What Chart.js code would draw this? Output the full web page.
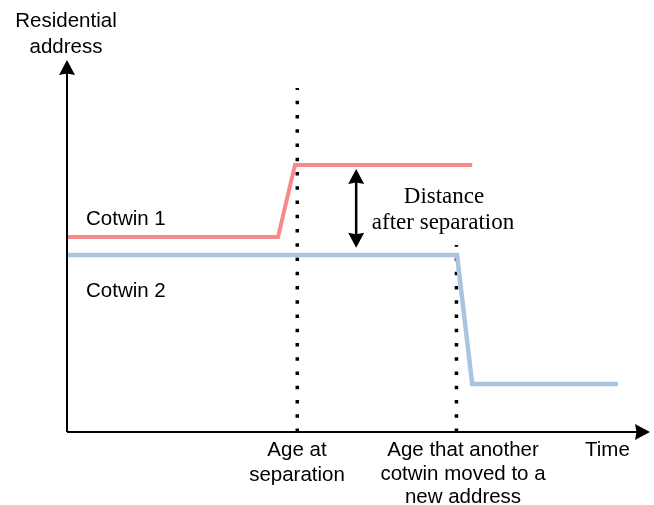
<!DOCTYPE html>
<html>
<head>
    <title>Distance after separation</title>
    <script src="https://cdn.jsdelivr.net/npm/chart.js"></script>
    <style>
        body { margin: 0; background: #fff; }
        #wrap { width: 654px; height: 505px; }
    </style>
</head>
<body>
    <div id="wrap"><canvas id="chart" width="654" height="505"></canvas></div>

    <script>
        // schematic values, x = time (0-100), y = residential address (0-100)
        const cotwin1Time = [0, 36.2, 39.1, 69.5];
        const cotwin1Address = [52.4, 52.4, 71.8, 71.8];
        const cotwin2Time = [0, 66.9, 69.5, 94.5];
        const cotwin2Address = [47.6, 47.6, 12.9, 12.9];
        // moments marked with dotted lines
        const markTime = [39.5, 66.8];
        const markTop = [92.5, 50.3];
        // double arrow showing the distance
        const distanceTime = 49.6;
        const distanceRange = [70.7, 49.5];

        const toPoints = (xs, ys) => xs.map((x, i) => ({ x: x, y: ys[i] }));

        // Axes with arrows + all the text labels
        const diagramPlugin = {
            id: 'diagram',
            afterDatasetsDraw(chart) {
                const ctx = chart.ctx;
                const a = chart.chartArea;
                const xs = chart.scales.x;
                const ys = chart.scales.y;

                function head(x, y, ang, len, w) {
                    ctx.save();
                    ctx.translate(x, y);
                    ctx.rotate(ang);
                    ctx.beginPath();
                    ctx.moveTo(0, 0);
                    ctx.lineTo(-len, -w);
                    ctx.lineTo(-len * 0.9, 0);
                    ctx.lineTo(-len, w);
                    ctx.closePath();
                    ctx.fill();
                    ctx.restore();
                }

                ctx.save();
                ctx.strokeStyle = '#000';
                ctx.fillStyle = '#000';
                ctx.lineWidth = 2;
                ctx.beginPath();
                ctx.moveTo(a.left, a.bottom);
                ctx.lineTo(a.left, a.top + 10);
                ctx.moveTo(a.left, a.bottom);
                ctx.lineTo(a.right - 10, a.bottom);
                ctx.stroke();
                head(a.left, a.top, -Math.PI / 2, 15, 8);
                head(a.right, a.bottom, 0, 15, 8);

                // distance arrow
                const dx = xs.getPixelForValue(distanceTime);
                const y1 = ys.getPixelForValue(distanceRange[0]);
                const y2 = ys.getPixelForValue(distanceRange[1]);
                ctx.lineWidth = 2.5;
                ctx.beginPath();
                ctx.moveTo(dx, y1 + 10);
                ctx.lineTo(dx, y2 - 10);
                ctx.stroke();
                head(dx, y1, -Math.PI / 2, 15, 8);
                head(dx, y2, Math.PI / 2, 15, 8);

                // texts
                ctx.textBaseline = 'alphabetic';
                ctx.font = '23px "Liberation Serif"';
                ctx.textAlign = 'center';
                ctx.fillText('Distance', 444, 203);
                ctx.fillText('after separation', 443, 229);

                ctx.font = '20.5px "Liberation Sans"';
                ctx.textAlign = 'center';
                ctx.fillText('Residential', 66, 27);
                ctx.fillText('address', 66, 53);
                ctx.textAlign = 'left';
                ctx.fillText('Cotwin 1', 86, 225);
                ctx.fillText('Cotwin 2', 86, 297);
                ctx.fillText('Time', 585, 456);

                ctx.textAlign = 'center';
                ctx.fillText('Age at', 297, 456);
                ctx.fillText('separation', 297, 481);
                ctx.fillText('Age that another', 463, 456);
                ctx.fillText('cotwin moved to a', 463, 480);
                ctx.fillText('new address', 463, 503);
                ctx.restore();
            }
        };

        const markSets = markTime.map((t, i) => ({
            data: toPoints([t, t], [0, markTop[i]]),
            borderColor: '#000',
            borderWidth: 3.5,
            borderDash: [3.5, 10.75],
            pointRadius: 0,
            clip: false,
        }));

        new Chart(document.getElementById('chart').getContext('2d'), {
            type: 'line',
            data: {
                datasets: [
                    {
                        label: 'Cotwin 1',
                        data: toPoints(cotwin1Time, cotwin1Address),
                        borderColor: '#f8898a',
                        borderWidth: 4,
                        pointRadius: 0,
                        clip: false,
                    },
                    {
                        label: 'Cotwin 2',
                        data: toPoints(cotwin2Time, cotwin2Address),
                        borderColor: '#a8c4e2',
                        borderWidth: 4.5,
                        pointRadius: 0,
                        clip: false,
                    },
                    ...markSets,
                ],
            },
            options: {
                responsive: false,
                animation: false,
                layout: { padding: { left: 67, right: 4, top: 60, bottom: 73 } },
                plugins: { legend: { display: false }, tooltip: { enabled: false } },
                scales: {
                    x: { type: 'linear', min: 0, max: 100, display: false },
                    y: { type: 'linear', min: 0, max: 100, display: false },
                },
            },
            plugins: [diagramPlugin],
        });
    </script>
</body>
</html>
